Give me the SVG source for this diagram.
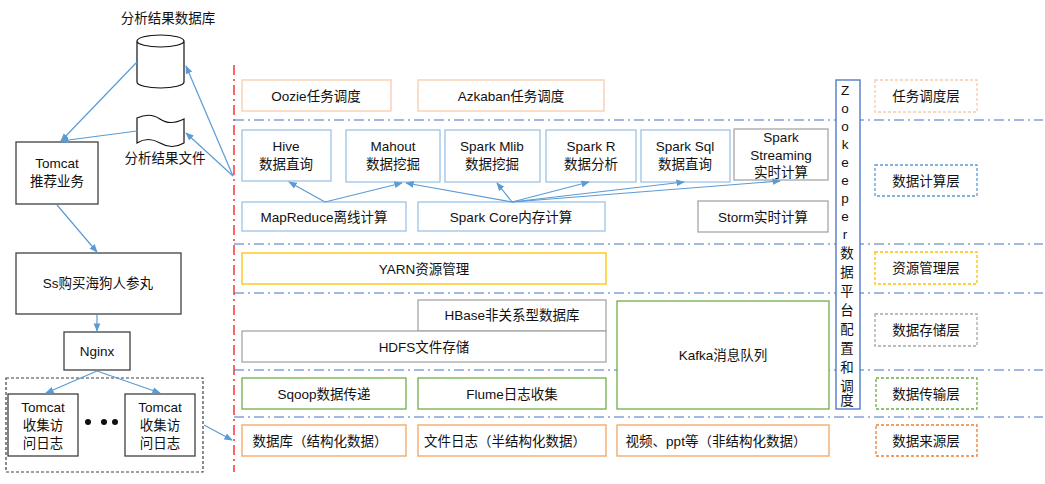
<svg xmlns="http://www.w3.org/2000/svg" width="1045" height="484" viewBox="0 0 1045 484">
<defs>
<marker id="ah" viewBox="0 0 10 10" refX="9" refY="5" markerWidth="7" markerHeight="7" orient="auto"><path d="M0,1 L10,5 L0,9 z" fill="#5b9bd5"/></marker>
<style>
text{font-family:"Liberation Sans","Noto Sans CJK SC",sans-serif;font-size:13.5px;fill:#111;text-anchor:middle}
.b{fill:#fff;stroke-width:1.3}
.blue{stroke:#9dc3e6}.peach{stroke:#f8cbad}.gray{stroke:#a6a6a6}.yel{stroke:#ffc000}.grn{stroke:#70ad47}.org{stroke:#f4a460}.blk{stroke:#404040}
.lay{fill:#fff;stroke-width:1.3;stroke-dasharray:3 2}
.hl{stroke:#4472c4;stroke-width:1.2;stroke-dasharray:10 4 2 4;fill:none}
.c{stroke:#5b9bd5;stroke-width:1.2;fill:none;marker-end:url(#ah)}
</style>
</defs>
<rect width="1045" height="484" fill="#fff"/>
<g id="grid">
<line x1="234" y1="65" x2="234" y2="472" stroke="#ff0000" stroke-width="1.2" stroke-dasharray="10 4 2 4"/>
<line class="hl" x1="234" y1="120" x2="1043" y2="120"/>
<line class="hl" x1="234" y1="244" x2="1043" y2="244"/>
<line class="hl" x1="234" y1="293" x2="1043" y2="293"/>
<line class="hl" x1="234" y1="370" x2="1043" y2="370"/>
<line class="hl" x1="234" y1="417" x2="1043" y2="417"/>
</g>
<g id="db"><path d="M137,41 V82 A23.5,6 0 0 0 184,82 V41 A23.5,6 0 0 0 137,41 A23.5,6 0 0 0 184,41" fill="#fff" stroke="#111" stroke-width="1.2"/><text x="168" y="23">分析结果数据库</text></g>
<g id="file"><path d="M137,118 Q150,112 160,119 T184,119 V143 Q172,150 160,143 T137,143 Z" fill="#fff" stroke="#111" stroke-width="1.2"/><text x="165" y="163">分析结果文件</text></g>
<g id="tomcat"><rect class="b blk" x="16" y="142" width="82" height="62"/><text x="57" y="168">Tomcat</text><text x="57" y="186">推荐业务</text></g>
<g id="ss"><rect class="b blk" x="16" y="253" width="165" height="61"/><text x="98" y="288">Ss购买海狗人参丸</text></g>
<g id="nginx"><rect class="b blk" x="64" y="332" width="66" height="38"/><text x="97" y="356">Nginx</text></g>
<g id="cluster"><rect x="6" y="378" width="197" height="94" fill="none" stroke="#404040" stroke-width="1.2" stroke-dasharray="3 2"/>
<rect class="b blk" x="8" y="394" width="70" height="62"/><text x="43" y="412">Tomcat</text><text x="43" y="430">收集访</text><text x="43" y="448">问日志</text>
<rect class="b blk" x="125" y="394" width="70" height="62"/><text x="160" y="412">Tomcat</text><text x="160" y="430">收集访</text><text x="160" y="448">问日志</text>
<circle cx="88" cy="422" r="3" fill="#111"/><circle cx="104" cy="422" r="3" fill="#111"/><circle cx="115" cy="422" r="3" fill="#111"/></g>
<g id="sched"><rect class="b peach" x="242" y="80" width="149" height="31"/><text x="316" y="101">Oozie任务调度</text>
<rect class="b peach" x="418" y="80" width="186" height="31"/><text x="511" y="101">Azkaban任务调度</text></g>
<g id="compute">
<rect class="b blue" x="242" y="130" width="89" height="51"/><text x="286" y="151">Hive</text><text x="286" y="169">数据直询</text>
<rect class="b blue" x="346" y="130" width="94" height="52"/><text x="393" y="151">Mahout</text><text x="393" y="169">数据挖掘</text>
<rect class="b blue" x="445" y="130" width="95" height="52"/><text x="492" y="151">Spark Mlib</text><text x="492" y="169">数据挖掘</text>
<rect class="b blue" x="546" y="130" width="90" height="52"/><text x="591" y="151">Spark R</text><text x="591" y="169">数据分析</text>
<rect class="b blue" x="641" y="130" width="89" height="52"/><text x="685" y="151">Spark Sql</text><text x="685" y="169">数据直询</text>
<rect class="b gray" x="734" y="129" width="94" height="51"/><text x="781" y="142">Spark</text><text x="781" y="160">Streaming</text><text x="781" y="177">实时计算</text>
<rect class="b blue" x="242" y="202" width="164" height="29"/><text x="324" y="222">MapReduce离线计算</text>
<rect class="b blue" x="418" y="202" width="187" height="29"/><text x="511" y="222">Spark Core内存计算</text>
<rect class="b gray" x="698" y="201" width="130" height="31"/><text x="763" y="222">Storm实时计算</text>
</g>
<g id="res"><rect class="b yel" x="242" y="253" width="364" height="31"/><text x="424" y="274">YARN资源管理</text></g>
<g id="store"><rect class="b gray" x="418" y="300" width="188" height="31"/><text x="512" y="320">HBase非关系型数据库</text>
<rect class="b gray" x="242" y="331" width="364" height="31"/><text x="424" y="352">HDFS文件存储</text>
<rect class="b grn" x="617" y="301" width="212" height="108"/><text x="723" y="360">Kafka消息队列</text></g>
<g id="trans"><rect class="b grn" x="242" y="378" width="164" height="31"/><text x="324" y="399">Sqoop数据传递</text>
<rect class="b grn" x="418" y="378" width="188" height="31"/><text x="512" y="399">Flume日志收集</text></g>
<g id="src"><rect class="b org" x="242" y="425" width="164" height="31"/><text x="320" y="446">数据库（结构化数据）</text>
<rect class="b org" x="418" y="425" width="188" height="31"/><text x="505" y="446">文件日志（半结构化数据）</text>
<rect class="b org" x="617" y="425" width="212" height="31"/><text x="716" y="446">视频、ppt等（非结构化数据）</text></g>
<g id="zk"><rect x="836" y="80" width="24" height="329" fill="#fff" stroke="#4472c4" stroke-width="1.3"/>
<text x="845" y="95">Z</text><text x="845" y="113">o</text><text x="845" y="131">o</text><text x="845" y="149">k</text><text x="845" y="167">e</text><text x="845" y="185">e</text><text x="845" y="203">p</text><text x="845" y="221">e</text><text x="845" y="239">r</text>
<text x="847" y="258">数</text><text x="847" y="277">据</text><text x="847" y="296">平</text><text x="847" y="315">台</text><text x="847" y="334">配</text><text x="847" y="353">置</text><text x="847" y="372">和</text><text x="847" y="391">调</text><text x="847" y="405">度</text></g>
<g id="layers">
<rect class="lay peach" x="875" y="80" width="102" height="32"/><text x="926" y="101">任务调度层</text>
<rect class="lay blue" x="875" y="165" width="102" height="31" style="stroke:#5b9bd5"/><text x="926" y="186">数据计算层</text>
<rect class="lay yel" x="875" y="252" width="102" height="32"/><text x="926" y="273">资源管理层</text>
<rect class="lay gray" x="875" y="314" width="102" height="32"/><text x="926" y="335">数据存储层</text>
<rect class="lay grn" x="876" y="378" width="101" height="31"/><text x="926" y="399">数据传输层</text>
<rect class="lay org" x="876" y="425" width="101" height="31" style="stroke:#ed7d31"/><text x="926" y="446">数据来源层</text>
</g>
<g id="connectors">
<line class="c" x1="137" y1="62" x2="61" y2="141"/>
<line class="c" x1="137" y1="131" x2="61" y2="141"/>
<line class="c" x1="233" y1="176" x2="186" y2="66"/>
<line class="c" x1="233" y1="176" x2="186" y2="133"/>
<line class="c" x1="57" y1="205" x2="97" y2="252"/>
<line class="c" x1="97" y1="315" x2="97" y2="331"/>
<line class="c" x1="97" y1="371" x2="46" y2="393"/>
<line class="c" x1="97" y1="371" x2="160" y2="393"/>
<line class="c" x1="204" y1="425" x2="232" y2="440"/>
<line class="c" x1="325" y1="202" x2="289" y2="182"/>
<line class="c" x1="325" y1="202" x2="402" y2="183"/>
<line class="c" x1="512" y1="202" x2="406" y2="183"/>
<line class="c" x1="512" y1="202" x2="497" y2="183"/>
<line class="c" x1="512" y1="202" x2="589" y2="182"/>
<line class="c" x1="512" y1="202" x2="684" y2="182"/>
<line class="c" x1="512" y1="202" x2="780" y2="181"/>
</g>
</svg>
